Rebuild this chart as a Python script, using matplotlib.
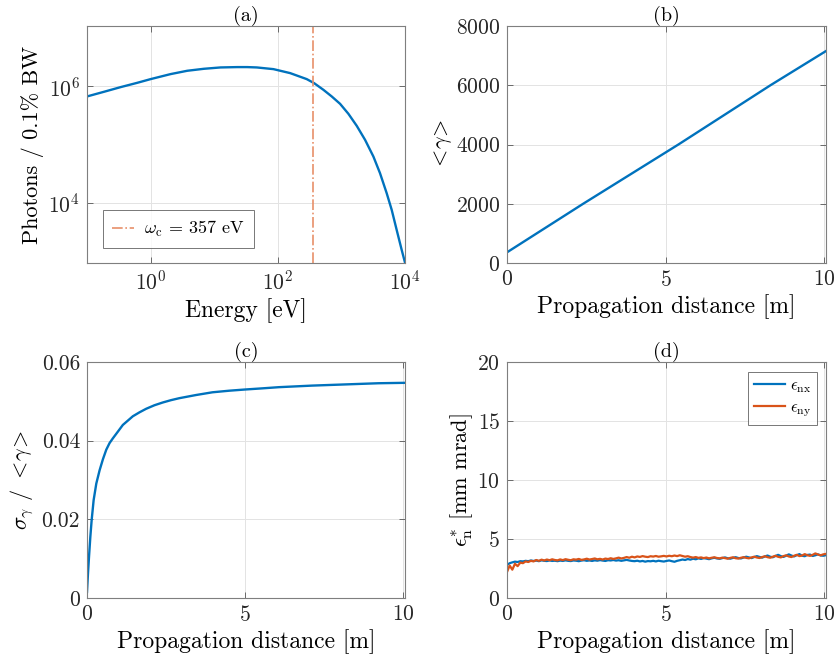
import numpy as np
import matplotlib
matplotlib.use("Agg")
import matplotlib.pyplot as plt

plt.rcParams.update({
    "font.family": "cmr10",
    "mathtext.fontset": "cm",
    "axes.formatter.use_mathtext": True,
    "axes.unicode_minus": False,
    "xtick.direction": "in",
    "ytick.direction": "in",
    "xtick.top": True,
    "ytick.right": True,
    "xtick.major.size": 4,
    "ytick.major.size": 4,
    "xtick.major.width": 0.6,
    "ytick.major.width": 0.6,
    "xtick.minor.visible": False,
    "ytick.minor.visible": False,
    "xtick.color": "#555555",
    "ytick.color": "#555555",
    "xtick.labelcolor": "#262626",
    "ytick.labelcolor": "#262626",
    "axes.edgecolor": "#7f7f7f",
    "axes.linewidth": 0.8,
})

BLUE = "#0072BD"
ORANGE = "#D95319"

# (a) synchrotron photon spectrum (decimal exponents of energy and flux)
log_energy = [-1.0, -0.733, -0.471, -0.209, 0.0, 0.314, 0.576, 0.838, 1.099,
              1.361, 1.518, 1.670, 1.932, 2.194, 2.455, 2.571, 2.717, 2.848,
              2.979, 3.110, 3.241, 3.372, 3.503, 3.607, 3.712, 3.791, 3.869,
              3.948, 4.0]
log_photons = [5.823, 5.903, 5.983, 6.057, 6.120, 6.206, 6.263, 6.297, 6.320,
               6.326, 6.326, 6.320, 6.291, 6.223, 6.120, 6.051, 5.937, 5.823,
               5.697, 5.526, 5.320, 5.080, 4.794, 4.509, 4.166, 3.880, 3.537,
               3.194, 2.977]
omega_c_ev = 357

# (b) mean Lorentz factor
dist_b = [0.0, 2.4, 5.4, 8.3, 10.05]
gamma_mean = [360, 2000, 4000, 6000, 7155]

# (c) relative energy spread
dist_c = [0.0, 0.031, 0.063, 0.105, 0.147, 0.210, 0.294, 0.399, 0.504, 0.609,
          0.714, 0.818, 0.976, 1.133, 1.291, 1.448, 1.658, 1.868, 2.130,
          2.392, 2.655, 2.917, 3.442, 3.966, 4.491, 4.984, 5.540, 6.065,
          7.114, 8.164, 9.213, 10.0, 10.05]
spread = [0.00153, 0.0062, 0.0104, 0.0155, 0.0198, 0.0249, 0.0291, 0.0325,
          0.0353, 0.0377, 0.0394, 0.0406, 0.0423, 0.0440, 0.0451, 0.0462,
          0.0472, 0.0481, 0.0490, 0.0497, 0.0503, 0.0508, 0.0516, 0.0523,
          0.0527, 0.0530, 0.0533, 0.0536, 0.0540, 0.0543, 0.0546, 0.0547,
          0.0547]

# (d) normalised emittances
emit_nx = [2.80, 2.95, 3.02, 3.08, 3.05, 3.12, 3.10, 3.15, 3.12, 3.18,
           3.14, 3.17, 3.12, 3.19, 3.15, 3.13, 3.18, 3.14, 3.16, 3.12,
           3.17, 3.14, 3.19, 3.15, 3.13, 3.18, 3.16, 3.12, 3.17, 3.20,
           3.15, 3.18, 3.14, 3.19, 3.16, 3.21, 3.17, 3.14, 3.20, 3.18,
           3.22, 3.17, 3.20, 3.15, 3.19, 3.23, 3.18, 3.14, 3.12, 3.16,
           3.10, 3.14, 3.08, 3.13, 3.11, 3.15, 3.10, 3.16, 3.12, 3.09,
           3.14, 3.18, 3.12, 3.07, 3.15, 3.20, 3.26, 3.22, 3.30, 3.25,
           3.33, 3.28, 3.36, 3.31, 3.38, 3.34, 3.29, 3.36, 3.41, 3.35,
           3.32, 3.38, 3.44, 3.37, 3.33, 3.40, 3.46, 3.39, 3.35, 3.43,
           3.50, 3.44, 3.38, 3.47, 3.55, 3.48, 3.42, 3.52, 3.60, 3.50,
           3.45, 3.56, 3.66, 3.55, 3.48, 3.58, 3.70, 3.60, 3.52, 3.63,
           3.72, 3.58, 3.54, 3.65, 3.68, 3.56, 3.62, 3.70, 3.60, 3.58, 3.63]
emit_ny = [2.20, 2.75, 2.40, 2.90, 2.70, 3.00, 2.95, 3.10, 3.05, 3.15,
           3.10, 3.22, 3.15, 3.25, 3.18, 3.26, 3.20, 3.28, 3.22, 3.19,
           3.27, 3.21, 3.29, 3.24, 3.20, 3.28, 3.25, 3.31, 3.23, 3.27,
           3.33, 3.26, 3.30, 3.35, 3.28, 3.32, 3.26, 3.34, 3.30, 3.37,
           3.31, 3.36, 3.42, 3.35, 3.40, 3.47, 3.41, 3.50, 3.44, 3.52,
           3.48, 3.55, 3.50, 3.47, 3.54, 3.51, 3.56, 3.50, 3.53, 3.57,
           3.52, 3.58, 3.54, 3.60, 3.55, 3.62, 3.56, 3.50, 3.54, 3.47,
           3.42, 3.47, 3.40, 3.44, 3.38, 3.43, 3.36, 3.41, 3.45, 3.39,
           3.36, 3.42, 3.38, 3.33, 3.40, 3.45, 3.37, 3.34, 3.41, 3.46,
           3.40, 3.36, 3.44, 3.50, 3.43, 3.39, 3.47, 3.54, 3.46, 3.41,
           3.50, 3.58, 3.49, 3.44, 3.55, 3.62, 3.52, 3.47, 3.58, 3.66,
           3.55, 3.60, 3.72, 3.62, 3.57, 3.66, 3.78, 3.68, 3.62, 3.70, 3.74]
dist_d = np.linspace(0.0, 10.05, len(emit_nx))

W, H = 838, 664
fig = plt.figure(figsize=(W / 100, H / 100), dpi=100)


def box(l, r, t, b):
    return [l / W, (H - b) / H, (r - l) / W, (b - t) / H]


TICK_FS = 15.5
XLABEL_FS = 17
YLABEL_FS = 16
TITLE_FS = 14.5

ax_a = fig.add_axes(box(87, 405, 26, 263))
ax_b = fig.add_axes(box(507, 826, 26, 263))
ax_c = fig.add_axes(box(87, 405, 362, 598))
ax_d = fig.add_axes(box(507, 826, 362, 598))

for ax in (ax_a, ax_b, ax_c, ax_d):
    ax.grid(True, color="#e3e3e3", linewidth=0.7)
    ax.set_axisbelow(True)
    ax.tick_params(labelsize=TICK_FS, pad=5)

# (a)
ax_a.plot(10.0 ** np.array(log_energy), 10.0 ** np.array(log_photons),
          color=BLUE, lw=1.7)
ax_a.axvline(omega_c_ev, color="#E8906A", lw=1.2, linestyle="-.",
             label=r"$\omega_{\rm c}$ = %d eV" % omega_c_ev)
ax_a.set_xscale("log")
ax_a.set_yscale("log")
ax_a.set_xlim(0.1, 1e4)
ax_a.set_ylim(10 ** 2.97, 10 ** 7.03)
ax_a.set_xticks([1e0, 1e2, 1e4])
ax_a.set_yticks([1e4, 1e6])
ax_a.minorticks_off()
ax_a.set_xlabel("Energy [eV]", fontsize=XLABEL_FS, labelpad=3)
ax_a.set_ylabel("Photons / 0.1% BW", fontsize=YLABEL_FS, labelpad=3)
ax_a.set_title("(a)", fontsize=TITLE_FS, pad=4)
leg = ax_a.legend(loc="lower left", bbox_to_anchor=(0.05, 0.063),
                  borderaxespad=0, fontsize=13, frameon=True, fancybox=False,
                  handlelength=1.2, handletextpad=0.6, borderpad=0.5)
leg.get_frame().set_edgecolor("#555555")
leg.get_frame().set_linewidth(0.7)

# (b)
ax_b.plot(dist_b, gamma_mean, color=BLUE, lw=1.7)
ax_b.set_xlim(0, 10.05)
ax_b.set_ylim(0, 8000)
ax_b.set_xticks([0, 5, 10])
ax_b.set_yticks([0, 2000, 4000, 6000, 8000])
ax_b.set_xlabel("Propagation distance [m]", fontsize=XLABEL_FS, labelpad=3)
ax_b.set_ylabel(r"$<\!\gamma\!>$", fontsize=YLABEL_FS, labelpad=1)
ax_b.set_title("(b)", fontsize=TITLE_FS, pad=4)

# (c)
ax_c.plot(dist_c, spread, color=BLUE, lw=1.7)
ax_c.set_xlim(0, 10.05)
ax_c.set_ylim(0, 0.06)
ax_c.set_xticks([0, 5, 10])
ax_c.set_yticks([0, 0.02, 0.04, 0.06])
ax_c.set_yticklabels(["0", "0.02", "0.04", "0.06"])
ax_c.set_xlabel("Propagation distance [m]", fontsize=XLABEL_FS, labelpad=3)
ax_c.set_ylabel(r"$\sigma_{\gamma}$ / $<\!\gamma\!>$", fontsize=YLABEL_FS,
                labelpad=4)
ax_c.set_title("(c)", fontsize=TITLE_FS, pad=4)

# (d)
ax_d.plot(dist_d, emit_nx, color=BLUE, lw=1.6, label=r"$\epsilon_{\rm nx}$")
ax_d.plot(dist_d, emit_ny, color=ORANGE, lw=1.6, label=r"$\epsilon_{\rm ny}$")
ax_d.set_xlim(0, 10.05)
ax_d.set_ylim(0, 20)
ax_d.set_xticks([0, 5, 10])
ax_d.set_yticks([0, 5, 10, 15, 20])
ax_d.set_xlabel("Propagation distance [m]", fontsize=XLABEL_FS, labelpad=3)
ax_d.set_ylabel(r"$\epsilon^{*}_{\rm n}$ [mm mrad]", fontsize=YLABEL_FS,
                labelpad=2)
ax_d.set_title("(d)", fontsize=TITLE_FS, pad=4)
leg_d = ax_d.legend(loc="upper right", bbox_to_anchor=(0.972, 0.958),
                    borderaxespad=0, fontsize=12, frameon=True,
                    fancybox=False, handlelength=1.85, borderpad=0.35,
                    labelspacing=0.3, handletextpad=0.3)
leg_d.get_frame().set_edgecolor("#555555")
leg_d.get_frame().set_linewidth(0.7)

fig.savefig("out.png", dpi=100, facecolor="white")
